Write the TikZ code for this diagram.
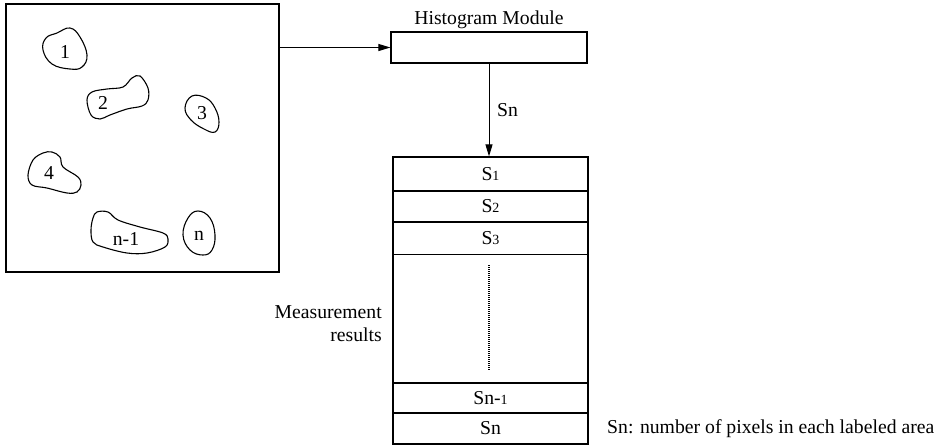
\documentclass[tikz,border=0pt]{standalone}
\usepackage{fontspec}
\setmainfont{Liberation Serif}
\usetikzlibrary{arrows.meta,calc}
\newcommand{\sm}[1]{{\fontsize{14}{14}\selectfont #1}}
\begin{document}
\begin{tikzpicture}[x=1pt,y=-1pt,
  every node/.style={font=\fontsize{19.7}{23}\selectfont},
  frame/.style={draw,line width=1.2pt,inner sep=0pt},
  blob/.style={draw,line width=1.1pt},
  conn/.style={line width=1pt,-{Triangle[length=12pt,width=7pt]}},
  lbl/.style={inner sep=0pt}]
\useasboundingbox (0,0) rectangle (937,445);
% image box
\node[frame,minimum width=273pt,minimum height=268pt] (img) at (142.5,138) {};
% blobs
\draw[blob] plot[smooth cycle,tension=0.7] coordinates {(70,28) (80,37) (87,55) (82,67) (70,69) (52,64) (43,50) (46,38) (57,33)};
\node[lbl] (b1) at (65,52) {1};
\draw[blob] plot[smooth cycle,tension=0.6] coordinates {(87,100) (92,92) (107,89) (123,87) (132,78) (140,76) (148,88) (148,100) (142,106) (127,109) (110,115) (100,119) (91,115)};
\node[lbl] (b2) at (103,103) {2};
\draw[blob] plot[smooth cycle,tension=0.7] coordinates {(192,96) (206,98) (215,108) (219,122) (215,132) (204,129) (191,120) (185,108)};
\node[lbl] (b3) at (202,113) {3};
\draw[blob] plot[smooth cycle,tension=0.6] coordinates {(52,152) (60,157) (63,167) (78,177) (81,185) (77,192) (67,193) (47,188) (32,185) (28,175) (33,160) (43,153)};
\node[lbl] (b4) at (49,173) {4};
\draw[blob] plot[smooth cycle,tension=0.6] coordinates {(97,212) (108,212) (118,220) (140,227) (163,233) (168,239) (165,247) (147,253) (127,253) (103,247) (93,242) (91,230) (93,218)};
\node[lbl] (bn1) at (126,239) {n-1};
\draw[blob] plot[smooth cycle,tension=0.7] coordinates {(198,211) (210,218) (215,235) (212,250) (203,255) (190,250) (183,235) (188,218)};
\node[lbl] (bn) at (199,236) {n};
% histogram module
\node[frame,minimum width=196pt,minimum height=31pt] (hist) at (489,47.5) {};
\node[lbl,anchor=base] (htitle) at (489,24) {Histogram Module};
\draw[conn] (hist.west -| img.east) -- (hist.west);
% table
\node[frame,minimum width=195pt,minimum height=34pt] (r1) at (490.5,174) {S\sm{1}};
\node[frame,minimum width=195pt,minimum height=31pt] (r2) at (490.5,206.5) {S\sm{2}};
\node[frame,minimum width=195pt,minimum height=32.5pt] (r3) at (490.5,238.25) {S\sm{3}};
\node[frame,minimum width=195pt,minimum height=128.5pt] (rd) at (490.5,318.75) {};
\node[frame,minimum width=195pt,minimum height=30pt] (rn1) at (490.5,398) {Sn-\sm{1}};
\node[frame,minimum width=195pt,minimum height=31pt] (rn) at (490.5,428.5) {Sn};
\coordinate (dtop) at (489,265);
\coordinate (dbot) at (489,370);
\draw[line width=1.3pt,dash pattern=on 1pt off 1pt] (dtop) -- (dbot);
\draw[conn] (hist.south -| 489,0) -- (r1.north -| 489,0);
\node[lbl,anchor=west] (snlbl) at (497,110) {Sn};
\node[lbl,anchor=east,align=right] (meas) at (382,324) {Measurement\\results};
\node[lbl,anchor=west] (note) at (607,428.5) {Sn: number of pixels in each labeled area};
\end{tikzpicture}
\end{document}
